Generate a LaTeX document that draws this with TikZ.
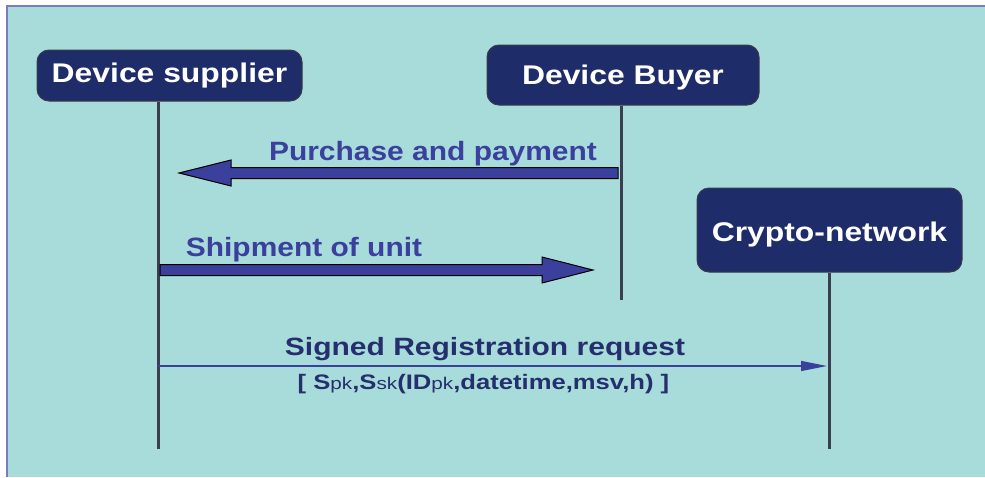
\documentclass[tikz,border=0pt]{standalone}
\usepackage{fontspec}
\setmainfont{Liberation Sans}
\newfontfamily\boxfont{Liberation Sans}[FakeStretch=1.18]
\newfontfamily\msgfont{Liberation Sans}[FakeStretch=1.13]
\newfontfamily\regfont{Liberation Sans}[FakeStretch=1.2]
\newfontfamily\argfont{Liberation Sans}[FakeStretch=1.22]
\usetikzlibrary{arrows.meta,calc}

\definecolor{bgteal}{HTML}{A8DCDA}
\definecolor{frameline}{HTML}{7B7BC2}
\definecolor{actorfill}{HTML}{1F2C6A}
\definecolor{actoredge}{HTML}{3A3A48}
\definecolor{msgblue}{HTML}{3A409C}
\definecolor{msgnavy}{HTML}{262F6E}
\definecolor{lifegray}{HTML}{3C3D4E}

% smaller, regular-weight key tags inside the bold argument list
\newcommand\keytag[1]{{\mdseries\fontsize{17}{20}\selectfont #1}}

\begin{document}
\begin{tikzpicture}[x=1pt,y=-1pt,
  actor/.style={draw=actoredge, line width=1pt, fill=actorfill,
    rounded corners=12pt, text=white, inner sep=0pt,
    font=\boxfont\bfseries\fontsize{27}{30}\selectfont,
    text height=19.5pt, text depth=0pt},
  lifeline/.style={draw=lifegray, line width=3pt},
  bigarrow/.style={draw=black, line width=1pt, fill=msgblue, line join=miter},
  thinarrow/.style={draw=msgblue, line width=1.3pt,
    -{Triangle[length=26pt,width=10pt]}},
  msglabel/.style={text=msgblue, anchor=base, inner sep=0pt,
    font=\msgfont\bfseries\fontsize{26.5}{30}\selectfont},
  reglabel/.style={text=msgnavy, anchor=base, inner sep=0pt,
    font=\regfont\bfseries\fontsize{25}{28}\selectfont},
  arglabel/.style={text=msgnavy, anchor=base, inner sep=0pt,
    font=\argfont\bfseries\fontsize{21}{24}\selectfont}
]
\useasboundingbox (0,0) rectangle (985,477);

% canvas with its framed top and left edges
\fill[white] (0,0) rectangle (985,477);
\fill[bgteal] (7,6) rectangle (985,477);
\draw[frameline, line width=2pt] (7,477) -- (7,6) -- (985,6);

% participants
\node[actor, minimum width=265pt, minimum height=51pt, text depth=6pt]
  (sup) at (169.5,75.5) {Device supplier};
\node[actor, minimum width=272pt, minimum height=60pt]
  (buy) at (623,75) {Device Buyer};
\node[actor, minimum width=265pt, minimum height=84pt, text height=23.5pt]
  (cry) at (829.5,230) {Crypto-network};

% lifelines
\coordinate (supTop) at ($(sup.south)+(-11.5,0)$);
\coordinate (buyTop) at ($(buy.south)+(-2,0)$);
\coordinate (cryTop) at ($(cry.south)+(-0.5,0)$);
\coordinate (lowEnd) at (0,449);
\coordinate (buyEndY) at (0,300);
\draw[lifeline] (supTop) -- (supTop |- lowEnd);
\draw[lifeline] (buyTop) -- (buyTop |- buyEndY);
\draw[lifeline] (cryTop) -- (cryTop |- lowEnd);

% message rows
\coordinate (yPur) at (0,173);
\coordinate (yShip) at (0,270);
\coordinate (yReg) at (0,366);

% purchase and payment: buyer -> supplier
\coordinate (pS) at ($(buyTop |- yPur)+(-3,0)$);
\coordinate (pT) at ($(supTop |- yPur)+(21,0)$);
\draw[bigarrow] ($(pS)+(0,-5.5)$) -- ($(pT)+(52,-5.5)$) -- ($(pT)+(52,-13)$)
  -- (pT) -- ($(pT)+(52,13)$) -- ($(pT)+(52,5.5)$) -- ($(pS)+(0,5.5)$) -- cycle;
\node[msglabel] (purLbl) at (433,160) {Purchase and payment};

% shipment of unit: supplier -> buyer
\coordinate (sS) at ($(supTop |- yShip)+(2,0)$);
\coordinate (sT) at ($(buyTop |- yShip)+(-28,0)$);
\draw[bigarrow] ($(sS)+(0,-5.5)$) -- ($(sT)+(-51,-5.5)$) -- ($(sT)+(-51,-13)$)
  -- (sT) -- ($(sT)+(-51,13)$) -- ($(sT)+(-51,5.5)$) -- ($(sS)+(0,5.5)$) -- cycle;
\node[msglabel] (shipLbl) at (304,256) {Shipment of unit};

% signed registration request: supplier -> crypto-network
\coordinate (rS) at (supTop |- yReg);
\coordinate (rT) at ($(cryTop |- yReg)+(-2,0)$);
\draw[thinarrow] (rS) -- (rT);
\node[reglabel] (regLbl) at (485,355) {Signed Registration request};
\node[arglabel] (argLbl) at (483.5,389)
  {[ S\keytag{pk},S\keytag{sk}(ID\keytag{pk},datetime,msv,h) ]};
\end{tikzpicture}
\end{document}
